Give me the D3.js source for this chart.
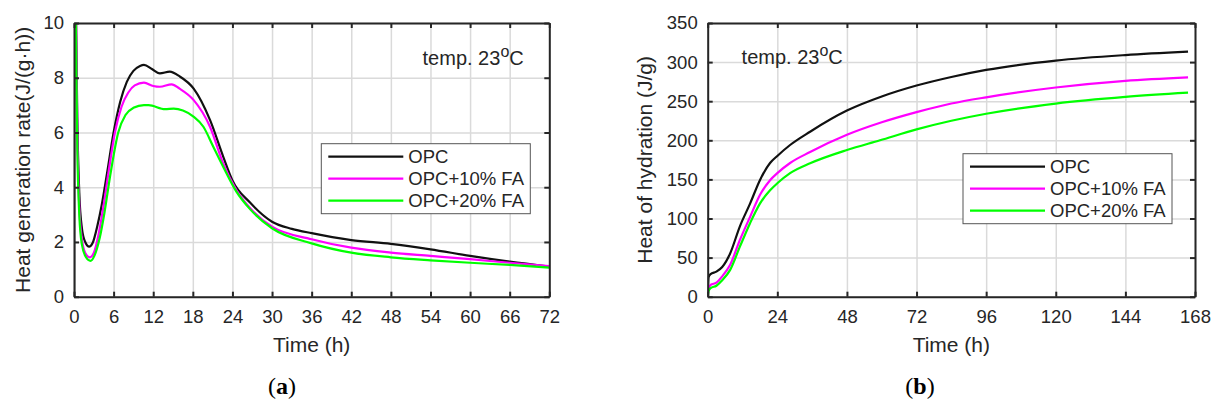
<!DOCTYPE html>
<html>
<head>
<meta charset="utf-8">
<script src="https://cdn.jsdelivr.net/npm/d3@7"></script>
<style>
body { margin: 0; background: #fff; }
text { font-family: "Liberation Sans", Arial, sans-serif; fill: #262626; }
.grid line { stroke: #dadada; stroke-width: 1.5; }
.grid path { display: none; }
.frame path, .frame line { stroke: #262626; stroke-width: 2; }
.frame text { font-size: 18.5px; fill: #262626; }
</style>
</head>
<body>
<svg id="chart" width="1217" height="408"></svg>
<script>
// series names + colours
var seriesNames = ["OPC", "OPC+10% FA", "OPC+20% FA"];
var seriesColors = ["#111111", "#ff00ff", "#00ff00"];

// (a) heat generation rate, [time h, J/(g·h)]
var rateOPC = [[0,0],[0.08,14],[0.3,10.5],[0.5,6.5],[0.8,3.8],[1.2,2.5],[1.7,2.0],[2.3,1.83],[2.8,1.95],[3.5,2.55],[4.2,3.35],[5.0,4.5],[6.0,6.0],[7.0,7.12],[8.0,7.85],[9.0,8.25],[10.0,8.43],[10.6,8.47],[11.8,8.32],[13.0,8.16],[14.5,8.22],[16.0,8.05],[18.1,7.61],[20.6,6.46],[22.6,5.12],[24.0,4.25],[26.7,3.43],[30,2.74],[33,2.48],[36,2.32],[42,2.07],[48,1.93],[54,1.73],[60,1.49],[66,1.28],[72,1.1]];
var rateFA10 = [[0,0],[0.07,14],[0.3,10],[0.5,6],[0.8,3.3],[1.2,2.1],[1.7,1.6],[2.4,1.44],[3.0,1.6],[3.7,2.25],[4.4,3.2],[5.2,4.5],[6.2,6.0],[7.2,6.94],[8.2,7.45],[9.2,7.72],[10.6,7.82],[12,7.7],[13,7.67],[14.8,7.76],[16,7.6],[18.1,7.19],[20.6,6.21],[22.6,4.87],[24.6,3.9],[26.7,3.23],[30,2.56],[36,2.10],[42,1.79],[48,1.61],[54,1.49],[60,1.37],[66,1.24],[72,1.12]];
var rateFA20 = [[0,0],[0.06,14],[0.3,9.5],[0.5,5.5],[0.8,3.0],[1.2,1.9],[1.8,1.45],[2.5,1.31],[3.1,1.5],[3.9,2.15],[4.6,3.05],[5.5,4.45],[6.7,6.0],[7.8,6.64],[9.0,6.9],[10.6,7.0],[11.3,7.0],[13.8,6.85],[15.1,6.87],[16.5,6.8],[18.1,6.58],[19.6,6.21],[21.1,5.48],[22.6,4.75],[24.6,3.84],[26.7,3.19],[30,2.50],[36,1.95],[42,1.61],[48,1.44],[54,1.33],[60,1.24],[66,1.16],[72,1.06]];

// (b) heat of hydration, [time h, J/g]
var heatOPC = [[0,0],[0.3,25],[1,29],[3,32],[5,38],[7.7,55],[11.1,90],[14.6,119],[18,149],[21.5,171],[24,180],[28.4,194],[35.3,211],[48,238],[60,256],[72,270],[84,281],[96,290],[120,302],[144,309],[165.6,313.3]];
var heatFA10 = [[0,0],[0.3,11],[1,15],[3,18],[5,26],[7.7,40.5],[11.1,72.5],[14.6,102],[18,130],[21.5,149],[24,158],[28.4,171],[35.3,185],[48,207],[60,223],[72,236],[84,247],[96,255],[120,267.5],[144,276],[165.6,280.5]];
var heatFA20 = [[0,0],[0.3,7],[1,11],[3,14],[5,21],[7.7,34],[11.1,64],[14.6,94],[18,119],[21.5,136],[24,145],[28.4,158],[35.3,170.6],[48,187.6],[59.4,200],[72,214],[84,225],[96,234],[120,247],[144,255.5],[165.6,260.9]];

// ticks
var ticksXa = d3.range(0, 73, 6);
var ticksYa = [0, 2, 4, 6, 8, 10];
var ticksXb = [0, 24, 48, 72, 96, 120, 144, 168];
var ticksYb = [0, 50, 100, 150, 200, 250, 300, 350];

var svg = d3.select("#chart");
svg.append("rect").attr("width", 1217).attr("height", 408).attr("fill", "#fff");

function drawPanel(cfg) {
    var w = cfg.right - cfg.left, h = cfg.bottom - cfg.top;
    var x = d3.scaleLinear().domain(cfg.xDomain).range([0, w]);
    var y = d3.scaleLinear().domain(cfg.yDomain).range([h, 0]);
    var g = svg.append("g").attr("transform", "translate(" + cfg.left + "," + cfg.top + ")");

    g.append("clipPath").attr("id", cfg.id + "clip")
        .append("rect").attr("width", w).attr("height", h);

    // grid
    g.append("g").attr("class", "grid").attr("transform", "translate(0," + h + ")")
        .call(d3.axisBottom(x).tickValues(cfg.xTicks).tickSize(-h).tickFormat(""));
    g.append("g").attr("class", "grid")
        .call(d3.axisLeft(y).tickValues(cfg.yTicks).tickSize(-w).tickFormat(""));

    var line = d3.line().x(d => x(d[0])).y(d => y(d[1])).curve(d3.curveMonotoneX);
    var lines = g.append("g").attr("clip-path", "url(#" + cfg.id + "clip)");
    cfg.series.forEach(function (s, i) {
        lines.append("path").datum(s)
            .attr("fill", "none")
            .attr("stroke", seriesColors[i])
            .attr("stroke-width", 2.2)
            .attr("stroke-linejoin", "round")
            .attr("d", line);
    });

    // frame with inward ticks on all 4 sides
    g.append("g").attr("class", "frame").attr("transform", "translate(0," + h + ")")
        .call(d3.axisBottom(x).tickValues(cfg.xTicks).tickSizeInner(-5).tickSizeOuter(0).tickPadding(13));
    g.append("g").attr("class", "frame")
        .call(d3.axisLeft(y).tickValues(cfg.yTicks).tickSizeInner(-5).tickSizeOuter(0).tickPadding(10));
    g.append("g").attr("class", "frame")
        .call(d3.axisTop(x).tickValues(cfg.xTicks).tickSizeInner(-5).tickSizeOuter(0).tickFormat(""));
    g.append("g").attr("class", "frame").attr("transform", "translate(" + w + ",0)")
        .call(d3.axisRight(y).tickValues(cfg.yTicks).tickSizeInner(-5).tickSizeOuter(0).tickFormat(""));

    // axis labels
    g.append("text").attr("x", w / 2).attr("y", h + 55)
        .attr("text-anchor", "middle").style("font-size", "21px").text("Time (h)");
    g.append("text")
        .attr("transform", "translate(" + cfg.yLabelX + "," + (h / 2) + ") rotate(-90)")
        .attr("text-anchor", "middle").style("font-size", "21px").text(cfg.yLabel);

    // temperature note
    var note = g.append("text").attr("x", x(cfg.note[0])).attr("y", y(cfg.note[1]))
        .style("font-size", "20px");
    note.append("tspan").text("temp. 23");
    note.append("tspan").attr("dy", -8).style("font-size", "16px").text("o");
    note.append("tspan").attr("dy", 8).text("C");

    // legend
    var lg = g.append("g").attr("transform", "translate(" + (w - cfg.legRight - 209) + "," + (h - cfg.legBottom - 70) + ")");
    lg.append("rect").attr("width", 209).attr("height", 70)
        .attr("fill", "#fff").attr("stroke", "#555").attr("stroke-width", 1);
    seriesNames.forEach(function (n, i) {
        var yy = 13 + i * 22;
        lg.append("line").attr("x1", 7).attr("x2", 82).attr("y1", yy).attr("y2", yy)
            .attr("stroke", seriesColors[i]).attr("stroke-width", 2.2);
        lg.append("text").attr("x", 87).attr("y", yy).attr("dy", "0.35em")
            .style("font-size", "18.5px").text(n);
    });

    // sub-caption
    var cap = svg.append("text").attr("x", cfg.capX).attr("y", 394).attr("text-anchor", "middle")
        .style("font-family", "'Liberation Serif', 'Times New Roman', serif")
        .style("font-size", "24px").style("fill", "#000");
    cap.append("tspan").text("(");
    cap.append("tspan").style("font-weight", "bold").text(cfg.cap);
    cap.append("tspan").text(")");
}

drawPanel({
    id: "a", left: 74, right: 549.3, top: 23, bottom: 296.7,
    xDomain: [0, 72], yDomain: [0, 10], xTicks: ticksXa, yTicks: ticksYa,
    series: [rateOPC, rateFA10, rateFA20],
    yLabel: "Heat generation rate(J/(g\u00b7h))", yLabelX: -44,
    note: [52.8, 8.45], legRight: 19, legBottom: 83, capX: 282, cap: "a"
});
drawPanel({
    id: "b", left: 707.7, right: 1195, top: 23, bottom: 296.7,
    xDomain: [0, 168], yDomain: [0, 350], xTicks: ticksXb, yTicks: ticksYb,
    series: [heatOPC, heatFA10, heatFA20],
    yLabel: "Heat of hydration (J/g)", yLabelX: -56,
    note: [11.7, 298], legRight: 23, legBottom: 73, capX: 920, cap: "b"
});
</script>
</body>
</html>
